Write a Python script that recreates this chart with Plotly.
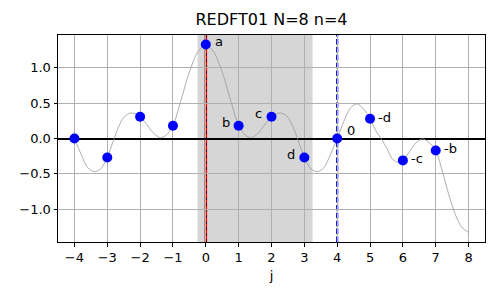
import plotly.graph_objects as go

# ---- data ----
j_vals = [-4, -3, -2, -1, 0, 1, 2, 3, 4, 5, 6, 7]
y_vals = [0.0, -0.27, 0.307, 0.18, 1.33, 0.18, 0.307, -0.27, 0.0, 0.28, -0.31, -0.17]
point_labels = ["", "", "", "", "a", "b", "c", "d", "0", "-d", "-c", "-b"]

curve_x = [-4.0, -3.8, -3.6, -3.4, -3.2, -3.0, -2.8, -2.65, -2.5, -2.3, -2.15, -2.0,
           -1.8, -1.6, -1.38, -1.2, -1.0, -0.75, -0.5, -0.25, 0.0,
           0.25, 0.5, 0.75, 1.0, 1.2, 1.38, 1.6, 1.8, 2.0, 2.15, 2.3, 2.5, 2.65,
           2.8, 3.0, 3.2, 3.4, 3.6, 3.8, 4.0,
           4.2, 4.4, 4.6, 4.8, 5.0, 5.2, 5.35, 5.5, 5.7, 5.9, 6.0, 6.2, 6.4, 6.6,
           6.8, 7.0, 7.2, 7.4, 7.6, 7.8, 8.0]
curve_y = [0.0, -0.22, -0.41, -0.47, -0.43, -0.27, -0.01, 0.17, 0.30, 0.36, 0.35, 0.307,
           0.20, 0.08, 0.01, 0.05, 0.18, 0.55, 0.94, 1.22, 1.33,
           1.22, 0.94, 0.55, 0.18, 0.05, 0.01, 0.08, 0.20, 0.307, 0.35, 0.36, 0.30, 0.17,
           -0.01, -0.27, -0.43, -0.47, -0.41, -0.22, 0.0,
           0.24, 0.43, 0.49, 0.42, 0.28, 0.09, -0.01, -0.13, -0.30, -0.34, -0.31, -0.19, -0.06, -0.005,
           -0.06, -0.17, -0.46, -0.80, -1.08, -1.26, -1.33]

x_ticks = [-4, -3, -2, -1, 0, 1, 2, 3, 4, 5, 6, 7, 8]
y_ticks = [-1.0, -0.5, 0.0, 0.5, 1.0]
y_tick_text = ["\u22121.0", "\u22120.5", "0.0", "0.5", "1.0"]
x_tick_text = [("\u2212" + str(-v)) if v < 0 else str(v) for v in x_ticks]

shade_x = (-0.25, 3.25)
red_line_x = 0
blue_line_x = 4

# label placement styles (anchor, xshift, yshift)
label_style = {
    "a": ("left", 7, 3), "b": ("right", -7, 3), "c": ("right", -8, 3),
    "d": ("right", -7, 3), "0": ("left", 8, 8), "-d": ("left", 6, 1),
    "-c": ("left", 6, 2), "-b": ("left", 6, 2.5),
}

FONT = "DejaVu Sans"

fig = go.Figure()
fig.add_trace(go.Scatter(x=curve_x, y=curve_y, mode="lines",
                         line=dict(color="#999999", width=0.8, shape="spline", smoothing=0.8),
                         hoverinfo="skip", showlegend=False))
fig.add_trace(go.Scatter(x=j_vals, y=y_vals, mode="markers",
                         marker=dict(color="blue", size=10, line=dict(width=0)),
                         showlegend=False))

# shaded region (below grid)
fig.add_shape(type="rect", xref="x", yref="paper", x0=shade_x[0], x1=shade_x[1], y0=0, y1=1,
              fillcolor="#d6d6d6", line=dict(width=0), layer="below")
# red line with black dashes
fig.add_shape(type="line", xref="x", yref="paper", x0=red_line_x, x1=red_line_x, y0=0, y1=1,
              line=dict(color="red", width=2.6), layer="between")
fig.add_shape(type="line", xref="x", yref="paper", x0=red_line_x, x1=red_line_x, y0=0, y1=1,
              line=dict(color="black", width=1.6, dash="3px,3px"), layer="between")
# blue dashed line
fig.add_shape(type="line", xref="x", yref="paper", x0=blue_line_x, x1=blue_line_x, y0=0, y1=1,
              line=dict(color="blue", width=2.2, dash="5.5px,2.4px"), layer="between")

for xv, yv, lab in zip(j_vals, y_vals, point_labels):
    if not lab:
        continue
    anchor, xs, ys = label_style[lab]
    fig.add_annotation(x=xv, y=yv, text=lab, showarrow=False, xanchor=anchor, yanchor="middle",
                       xshift=xs, yshift=ys, font=dict(family=FONT, size=13, color="black"))

fig.update_layout(
    width=500, height=300,
    margin=dict(l=58, r=15, t=35, b=58),
    paper_bgcolor="white", plot_bgcolor="white",
    font=dict(family=FONT, size=13, color="black"),
    title=dict(text="REDFT01 N=8 n=4", x=0.5, xref="paper", xanchor="center",
               y=1, yref="container", yanchor="top", pad=dict(t=14),
               font=dict(family=FONT, size=16, color="black")),
    showlegend=False,
)
fig.update_xaxes(range=[-4.5, 8.5], tickvals=x_ticks, ticktext=x_tick_text,
                 showgrid=True, gridcolor="#b0b0b0", gridwidth=0.8,
                 showline=True, linecolor="black", linewidth=1, mirror=True,
                 ticks="outside", ticklen=3.5, tickwidth=0.8, tickcolor="black",
                 zeroline=False, title=dict(text="j", standoff=6, font=dict(size=13)))
fig.update_yaxes(range=[-1.465, 1.465], tickvals=y_ticks, ticktext=y_tick_text,
                 showgrid=True, gridcolor="#b0b0b0", gridwidth=0.8,
                 showline=True, linecolor="black", linewidth=1, mirror=True,
                 ticks="outside", ticklen=3.5, tickwidth=0.8, tickcolor="black",
                 zeroline=True, zerolinecolor="black", zerolinewidth=2)

fig.write_html("out.html")
